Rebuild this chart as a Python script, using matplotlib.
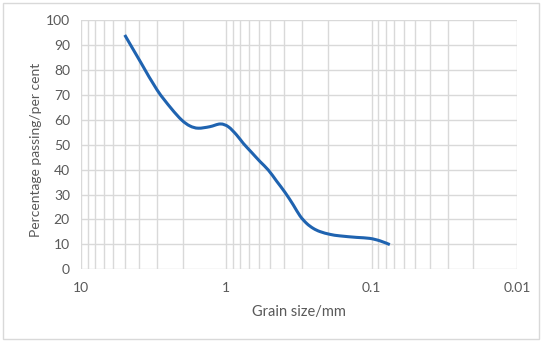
import matplotlib
matplotlib.use("Agg")
import numpy as np
import matplotlib.pyplot as plt
from matplotlib.patches import Rectangle, PathPatch
from matplotlib.path import Path
from matplotlib.ticker import LogLocator, FixedLocator, NullFormatter, FuncFormatter

# Grain size (mm) and percentage passing
grain_size = [5.0, 3.88, 3.0, 2.40, 2.03, 1.78, 1.56, 1.30, 1.10, 0.97, 0.85,
              0.764, 0.668, 0.586, 0.514, 0.45, 0.394, 0.346, 0.311, 0.28,
              0.252, 0.226, 0.193, 0.165, 0.127, 0.103, 0.0875, 0.075]
passing = [94.0, 83.0, 72.0, 64.6, 59.9, 57.5, 56.6, 57.2, 58.3, 57.2, 53.9,
           50.5, 46.8, 43.2, 39.8, 35.3, 30.8, 25.8, 21.4, 18.4,
           16.4, 15.1, 14.0, 13.4, 12.8, 12.4, 11.4, 9.9]

x_ticks = [10, 1, 0.1, 0.01]
x_tick_labels = ["10", "1", "0.1", "0.01"]
y_ticks = list(range(0, 101, 10))

plt.rcParams['font.family'] = ['Lato', 'DejaVu Sans']

fig = plt.figure(figsize=(5.5, 3.45), dpi=100)
ax = fig.add_axes([81/550, 1 - 269.3/345, (517 - 81)/550, (269.3 - 20)/345])


def smooth_path(xs, ys):
    """Excel-style smoothed line: Catmull-Rom Bezier in (log x, y) space."""
    lx = np.log10(np.asarray(xs, float))
    yy = np.asarray(ys, float)
    P = np.column_stack([lx, yy])
    n = len(P)
    verts = [P[0]]
    codes = [Path.MOVETO]
    for i in range(n - 1):
        p0 = P[i - 1] if i > 0 else P[i]
        p1 = P[i]
        p2 = P[i + 1]
        p3 = P[i + 2] if i + 2 < n else P[i + 1]
        c1 = p1 + (p2 - p0) / 6.0
        c2 = p2 - (p3 - p1) / 6.0
        verts += [c1, c2, p2]
        codes += [Path.CURVE4] * 3
    V = np.array(verts)
    V[:, 0] = 10 ** V[:, 0]
    return Path(V, codes)


ax.add_patch(PathPatch(smooth_path(grain_size, passing), transform=ax.transData,
                       fill=False, edgecolor="#1f63b0", lw=2.2, capstyle="butt", zorder=3))

ax.set_xscale("log")
ax.set_xlim(10, 0.01)
ax.set_ylim(0, 100)
ax.xaxis.set_major_locator(FixedLocator(x_ticks))
ax.xaxis.set_major_formatter(FuncFormatter(lambda v, p: x_tick_labels[x_ticks.index(v)] if v in x_ticks else ""))
ax.xaxis.set_minor_locator(LogLocator(base=10, subs=range(2, 10)))
ax.xaxis.set_minor_formatter(NullFormatter())
ax.set_yticks(y_ticks)

grid_c = "#d9d9d9"
ax.grid(True, which="both", axis="x", color=grid_c, lw=1.0)
ax.grid(True, which="major", axis="y", color=grid_c, lw=1.0)
for s in ax.spines.values():
    s.set_visible(False)
ax.tick_params(which="both", length=0, colors="#595959", labelsize=10)
ax.tick_params(axis="x", pad=9)
ax.tick_params(axis="y", pad=8)

ax.set_xlabel("Grain size/mm", color="#595959", fontsize=10.5, labelpad=8)
ax.set_ylabel("Percentage passing/per cent", color="#595959", fontsize=10)
ax.yaxis.set_label_coords(-0.09, 0.48)

fig.patches.append(Rectangle((3.3/550, 1 - 339.3/345), (539.3 - 3.3)/550, (339.3 - 3.3)/345,
                             transform=fig.transFigure, fill=False, edgecolor="#d9d9d9", lw=1.0))

fig.savefig("out.png", dpi=100, facecolor="white")
